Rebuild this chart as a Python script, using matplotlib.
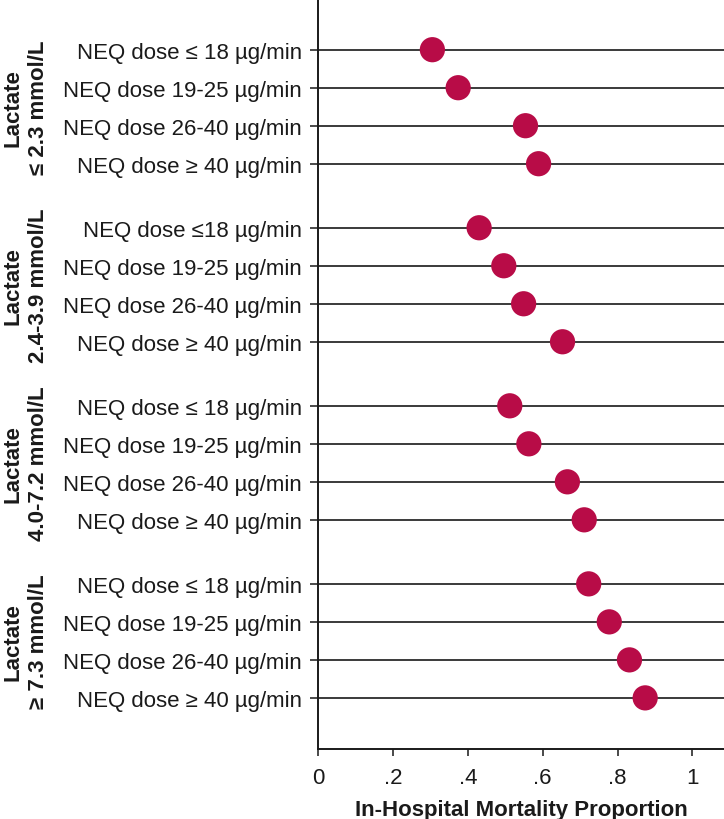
import matplotlib
matplotlib.use("Agg")
import matplotlib.pyplot as plt
import numpy as np

plt.rcParams['font.family'] = ['Liberation Sans', 'DejaVu Sans']

groups = ["Lactate\n\u2264 2.3 mmol/L", "Lactate\n2.4-3.9 mmol/L",
          "Lactate\n4.0-7.2 mmol/L", "Lactate\n\u2265 7.3 mmol/L"]
dose_labels = [
    ["NEQ dose \u2264 18 \u00b5g/min", "NEQ dose 19-25 \u00b5g/min", "NEQ dose 26-40 \u00b5g/min", "NEQ dose \u2265 40 \u00b5g/min"],
    ["NEQ dose \u226418 \u00b5g/min", "NEQ dose 19-25 \u00b5g/min", "NEQ dose 26-40 \u00b5g/min", "NEQ dose \u2265 40 \u00b5g/min"],
    ["NEQ dose \u2264 18 \u00b5g/min", "NEQ dose 19-25 \u00b5g/min", "NEQ dose 26-40 \u00b5g/min", "NEQ dose \u2265 40 \u00b5g/min"],
    ["NEQ dose \u2264 18 \u00b5g/min", "NEQ dose 19-25 \u00b5g/min", "NEQ dose 26-40 \u00b5g/min", "NEQ dose \u2265 40 \u00b5g/min"],
]
mortality = [
    [0.305, 0.374, 0.554, 0.589],
    [0.430, 0.496, 0.549, 0.653],
    [0.512, 0.563, 0.666, 0.711],
    [0.723, 0.778, 0.832, 0.874],
]
xticks = [0, 0.2, 0.4, 0.6, 0.8, 1.0]
xtick_labels = ["0", ".2", ".4", ".6", ".8", "1"]

GROUP_STEP = 4.685
fig = plt.figure(figsize=(7.24, 8.2), dpi=100)
ax = fig.add_axes([318.3 / 724, 70 / 820, 1 - 318.3 / 724, 750 / 820])

ypos, ylabels, xs = [], [], []
for g in range(4):
    for i in range(4):
        ypos.append(g * GROUP_STEP + i)
        ylabels.append(dose_labels[g][i])
        xs.append(mortality[g][i])

for y in ypos:
    ax.axhline(y, color='#2b2b2b', lw=1.3, zorder=1)
ax.scatter(xs, ypos, s=330, color='#B80C47', zorder=3, edgecolors='none')

ax.set_xlim(0, (724 - 318.3) / 374)
ax.set_ylim(18.40, -1.334)
ax.set_yticks(ypos)
ax.set_yticklabels(ylabels, fontsize=16, color='#1a1a1a')
ax.set_xticks(xticks)
ax.set_xticklabels(xtick_labels, fontsize=16, color='#1a1a1a')
ax.tick_params(axis='y', length=6, width=1.2, pad=6, color='#2b2b2b')
ax.tick_params(axis='x', length=5, width=1.2, pad=8, color='#2b2b2b')
for s in ['top', 'right']:
    ax.spines[s].set_visible(False)
for s in ['left', 'bottom']:
    ax.spines[s].set_linewidth(1.4)
    ax.spines[s].set_color('#1a1a1a')

ax.set_xlabel("In-Hospital Mortality Proportion", fontsize=16, fontweight='bold',
              color='#1a1a1a', labelpad=8)

for g, name in enumerate(groups):
    yc = g * GROUP_STEP + 1.5
    ax.text(-0.782, yc, name, rotation=90, ha='center', va='center',
            fontsize=16, fontweight='bold', color='#1a1a1a', linespacing=1.3,
            transform=ax.transData, clip_on=False)

fig.savefig("out.png", dpi=100)
